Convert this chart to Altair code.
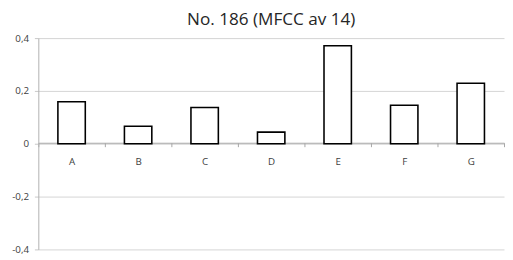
import altair as alt
import pandas as pd

categories = ["A", "B", "C", "D", "E", "F", "G"]
values = [0.159, 0.066, 0.137, 0.044, 0.371, 0.146, 0.229]
y_ticks = [-0.4, -0.2, 0, 0.2, 0.4]

df = pd.DataFrame({"cat": categories, "val": values})

label_expr = ("datum.value == 0 ? '0' : "
              "replace(replace(format(datum.value, '.1f'), '.', ','), '\u2212', '-')")

chart = alt.Chart(df).mark_bar(
    fill="white", stroke="black", strokeWidth=1.6, size=28
).encode(
    x=alt.X("cat:N", sort=categories, title=None,
            scale=alt.Scale(paddingInner=0, paddingOuter=0),
            axis=alt.Axis(labelAngle=0, offset=-109, domainColor="#a6a6a6",
                          tickColor="#a6a6a6", tickSize=4, tickBand="extent",
                          labelFontSize=10, labelColor="#404040",
                          labelFont="Open Sans", labelPadding=10,
                          grid=False)),
    y=alt.Y("val:Q", title=None,
            scale=alt.Scale(domain=[-0.4, 0.4], nice=False),
            axis=alt.Axis(values=y_ticks, labelExpr=label_expr,
                          tickSize=4, tickColor="#c8c8c8",
                          domainColor="#b0b0b0", gridColor="#d4d4d4",
                          labelFontSize=10, labelColor="#404040",
                          labelFont="Open Sans", labelPadding=6,
                          minExtent=26, maxExtent=26)),
).properties(
    width=476, height=216,
    title=alt.TitleParams("No. 186 (MFCC av 14)", fontSize=17.5,
                          font="Open Sans", fontWeight="normal",
                          color="#262626", anchor="middle", offset=5),
    padding={"left": 3, "top": 0, "right": 0, "bottom": 0},
).configure_view(stroke=None)

chart.save("out.html", embed_options={"renderer": "svg", "actions": False})
